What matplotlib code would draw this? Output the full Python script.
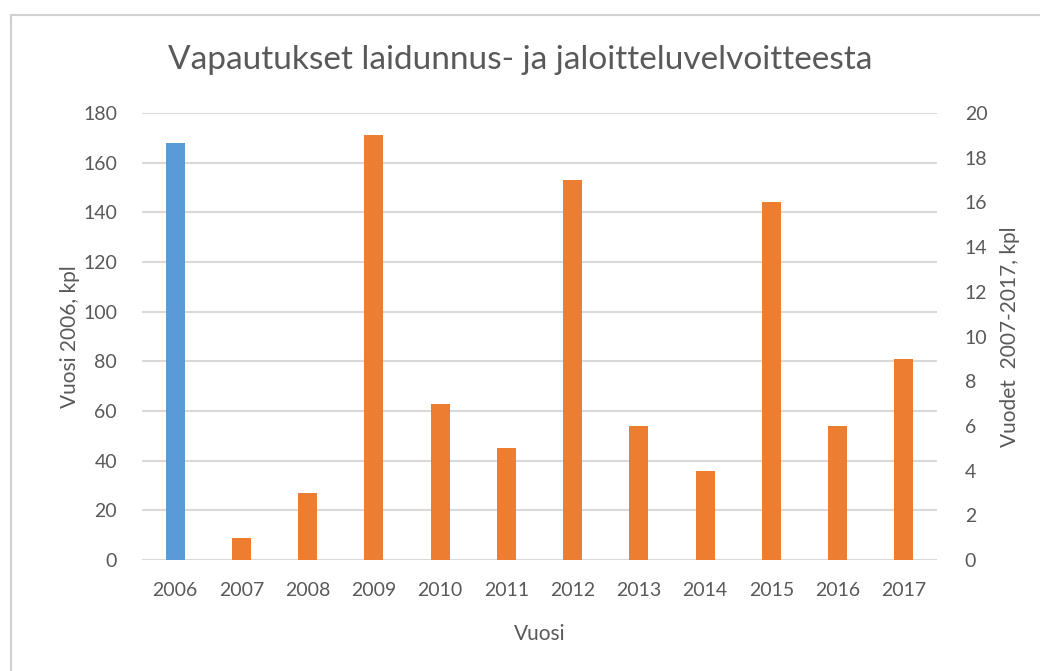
import matplotlib.pyplot as plt
from matplotlib.patches import Rectangle

years = ["2006", "2007", "2008", "2009", "2010", "2011",
         "2012", "2013", "2014", "2015", "2016", "2017"]
value_2006 = [168]
values_2007_2017 = [1, 3, 19, 7, 5, 17, 6, 4, 16, 6, 9]

left_ticks = list(range(0, 181, 20))
right_ticks = list(range(0, 21, 2))

txt = "#595959"
grid = "#d9d9d9"
plt.rcParams['font.family'] = ['Lato', 'DejaVu Sans']

fig = plt.figure(figsize=(10.4, 6.71), dpi=100)
ax = fig.add_axes([142 / 1040, 1 - 560 / 671, (937 - 142) / 1040, (560 - 113) / 671])
ax2 = ax.twinx()

x = list(range(len(years)))
w = 0.29
ax.bar(x[:1], value_2006, width=w, color="#5b9bd5", zorder=3)
ax2.bar(x[1:], values_2007_2017, width=w, color="#ed7d31", zorder=3)

ax.set_xlim(-0.5, len(years) - 0.5)
ax.set_ylim(0, 180)
ax2.set_ylim(0, 20)
ax.set_yticks(left_ticks)
ax2.set_yticks(right_ticks)
ax.set_xticks(x)
ax.set_xticklabels(years)

ax.yaxis.grid(True, color=grid, linewidth=1.5, zorder=0)
ax.set_axisbelow(True)
for a in (ax, ax2):
    for s in a.spines.values():
        s.set_visible(False)
    a.tick_params(length=0, labelsize=14, colors=txt)
ax.tick_params(axis="y", pad=18)
ax2.tick_params(axis="y", pad=20)
ax.tick_params(axis="x", pad=16)

ax.set_ylabel("Vuosi 2006, kpl", fontsize=15, color=txt, labelpad=2)
ax2.set_ylabel("Vuodet  2007-2017, kpl", fontsize=15, color=txt, labelpad=9)
ax.set_xlabel("Vuosi", fontsize=15, color=txt, labelpad=18)

fig.text(0.5, 1 - 60 / 671, "Vapautukset laidunnus- ja jaloitteluvelvoitteesta",
         ha="center", va="center", fontsize=24, color=txt)

# chart frame
fig.patches.append(Rectangle((11 / 1040, -0.01), 1.0, 1 - 15 / 671 + 0.01,
                             transform=fig.transFigure, fill=False,
                             edgecolor="#d0d0d0", linewidth=1.5))

fig.savefig("out.png", dpi=100)
